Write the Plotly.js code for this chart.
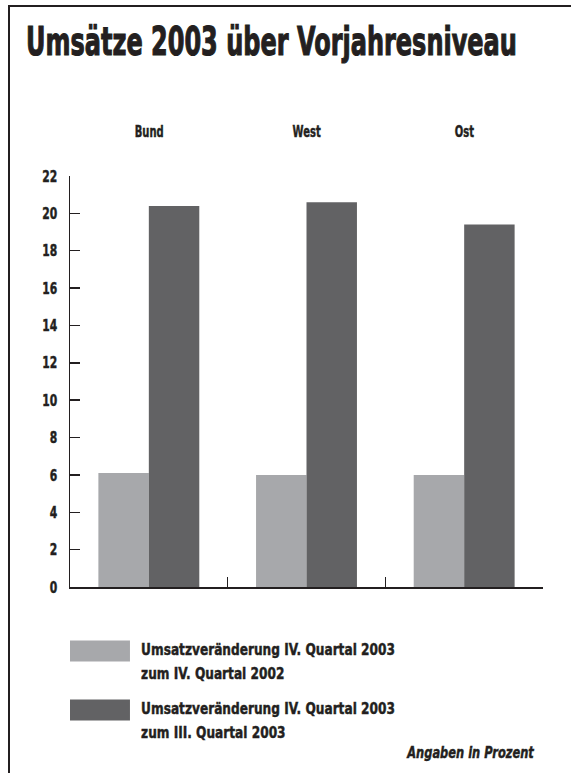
<!DOCTYPE html>
<html>
<head>
<meta charset="utf-8">
<script src="https://cdn.plot.ly/plotly-3.0.1.min.js"></script>
<style>
  html, body { margin: 0; padding: 0; background: #fff; }
  #wrap { position: relative; width: 571px; height: 773px; }
  #chart { width: 571px; height: 773px; }
  #frame { position: absolute; left: 8px; top: 5px; width: 570px; height: 780px;
           border-top: 2.5px solid #231f20; border-left: 2.5px solid #231f20; pointer-events: none; }
</style>
</head>
<body>
<div id="wrap">
  <div id="chart"></div>
  <div id="frame"></div>
</div>
<script>
// ---- data ----
const titleText = "Umsätze 2003 über Vorjahresniveau";
const categories = ["Bund", "West", "Ost"];
const seriesNames = [
  "Umsatzveränderung IV. Quartal 2003<br>zum IV. Quartal 2002",
  "Umsatzveränderung IV. Quartal 2003<br>zum III. Quartal 2003"
];
const valuesQ4Prev = [6.1, 6.0, 6.0];
const valuesQ3 = [20.4, 20.6, 19.4];
const seriesColors = ["#a7a8ab", "#626264"];
const yTicks = [0, 2, 4, 6, 8, 10, 12, 14, 16, 18, 20, 22];
const noteText = "Angaben in Prozent";

const FONT = "'DejaVu Sans', 'Liberation Sans', sans-serif";
const INK = "#231f20";

const traces = [
  { type: "bar", name: seriesNames[0], x: categories, y: valuesQ4Prev,
    marker: { color: seriesColors[0] }, hoverinfo: "y" },
  { type: "bar", name: seriesNames[1], x: categories, y: valuesQ3,
    marker: { color: seriesColors[1] }, hoverinfo: "y" }
];

// plot area geometry (px) used to place legend decorations
const L = 70, R = 27.7, T = 175.7, B = 185.7, W = 571, H = 773;
const pw = W - L - R, ph = H - T - B;
const px2x = px => (px - L) / pw;
const py2y = py => (H - B - py) / ph;

const annotations = [];
categories.forEach(c => annotations.push({
  xref: "x", yref: "paper", x: c, y: py2y(131), text: c, showarrow: false,
  xanchor: "center", yanchor: "middle",
  font: { family: FONT, size: 16, color: INK, weight: "bold" }
}));

const shapes = [];
const swatchTop = [641, 700];
seriesNames.forEach((name, i) => {
  shapes.push({ type: "rect", xref: "paper", yref: "paper",
    x0: px2x(70), x1: px2x(130), y0: py2y(swatchTop[i]), y1: py2y(swatchTop[i] + 21),
    fillcolor: seriesColors[i], line: { width: 0 } });
  name.split("<br>").forEach((line, j) => annotations.push({
    xref: "paper", yref: "paper", x: px2x(139), y: py2y(swatchTop[i] + 9 + j * 24),
    text: line, showarrow: false, xanchor: "left", yanchor: "middle",
    font: { family: FONT, size: 16.5, color: INK, weight: "bold" }
  }));
});
annotations.push({
  xref: "paper", yref: "paper", x: px2x(537), y: py2y(753), text: noteText,
  showarrow: false, xanchor: "right", yanchor: "middle",
  font: { family: FONT, size: 16.5, color: INK, weight: "bold", style: "italic" }
});

const layout = {
  width: W, height: H,
  margin: { l: L, r: R, t: T, b: B, pad: 0 },
  paper_bgcolor: "#fff", plot_bgcolor: "#fff",
  showlegend: false,
  barmode: "group", bargap: 0.36, bargroupgap: 0,
  title: { text: titleText, xref: "container", yref: "container",
    x: 26 / W, xanchor: "left", y: 1 - 41 / H, yanchor: "middle",
    font: { family: FONT, size: 39, color: INK, weight: "bold" } },
  xaxis: { type: "category", showline: true, linecolor: INK, linewidth: 1.5,
    ticks: "inside", tickson: "boundaries", ticklen: 10, tickcolor: INK, tickwidth: 1.5,
    showticklabels: false, showgrid: false, zeroline: false, fixedrange: true },
  yaxis: { range: [0, 22], tickvals: yTicks, ticktext: yTicks.map(String),
    showline: true, linecolor: INK, linewidth: 1.5,
    ticks: "inside", ticklen: 10, tickcolor: INK, tickwidth: 1.5,
    ticklabelstandoff: 8,
    tickfont: { family: FONT, size: 16, color: INK, weight: "bold" },
    showgrid: false, zeroline: false, fixedrange: true },
  annotations: annotations,
  shapes: shapes
};

// horizontally condense texts to imitate the narrow, heavy typeface of the original
function condense(els, refEl, targetWidth, pivot, stroke) {
  if (!els.length || !refEl) return;
  const s = targetWidth / refEl.getBBox().width;
  els.forEach(el => {
    const bb = el.getBBox();
    const px = pivot === "left" ? bb.x : pivot === "right" ? bb.x + bb.width : bb.x + bb.width / 2;
    const orig = el.getAttribute("transform") || "";
    el.setAttribute("transform",
      orig + " translate(" + px + ",0) scale(" + s + ",1) translate(" + (-px) + ",0)");
    el.style.stroke = INK;
    el.style.strokeWidth = stroke + "px";
    el.style.paintOrder = "stroke";
  });
}

Plotly.newPlot("chart", traces, layout, { displayModeBar: false, staticPlot: true }).then(gd => {
  const title = gd.querySelector(".gtitle");
  condense([title], title, 491, "left", 1.2);
  const yt = Array.from(gd.querySelectorAll(".ytick text"));
  const y22 = yt.find(t => t.textContent === "22");
  condense(yt, y22, 15, "right", 0.5);
  const ann = Array.from(gd.querySelectorAll(".annotation-text"));
  const cat = ann.slice(0, 3);
  condense(cat, cat[0], 29, "center", 0.5);
  const leg = ann.slice(3, 7);
  condense(leg, leg[0], 254, "left", 0.5);
  const note = ann.slice(7);
  condense(note, note[0], 129, "right", 0.5);
});
</script>
</body>
</html>
